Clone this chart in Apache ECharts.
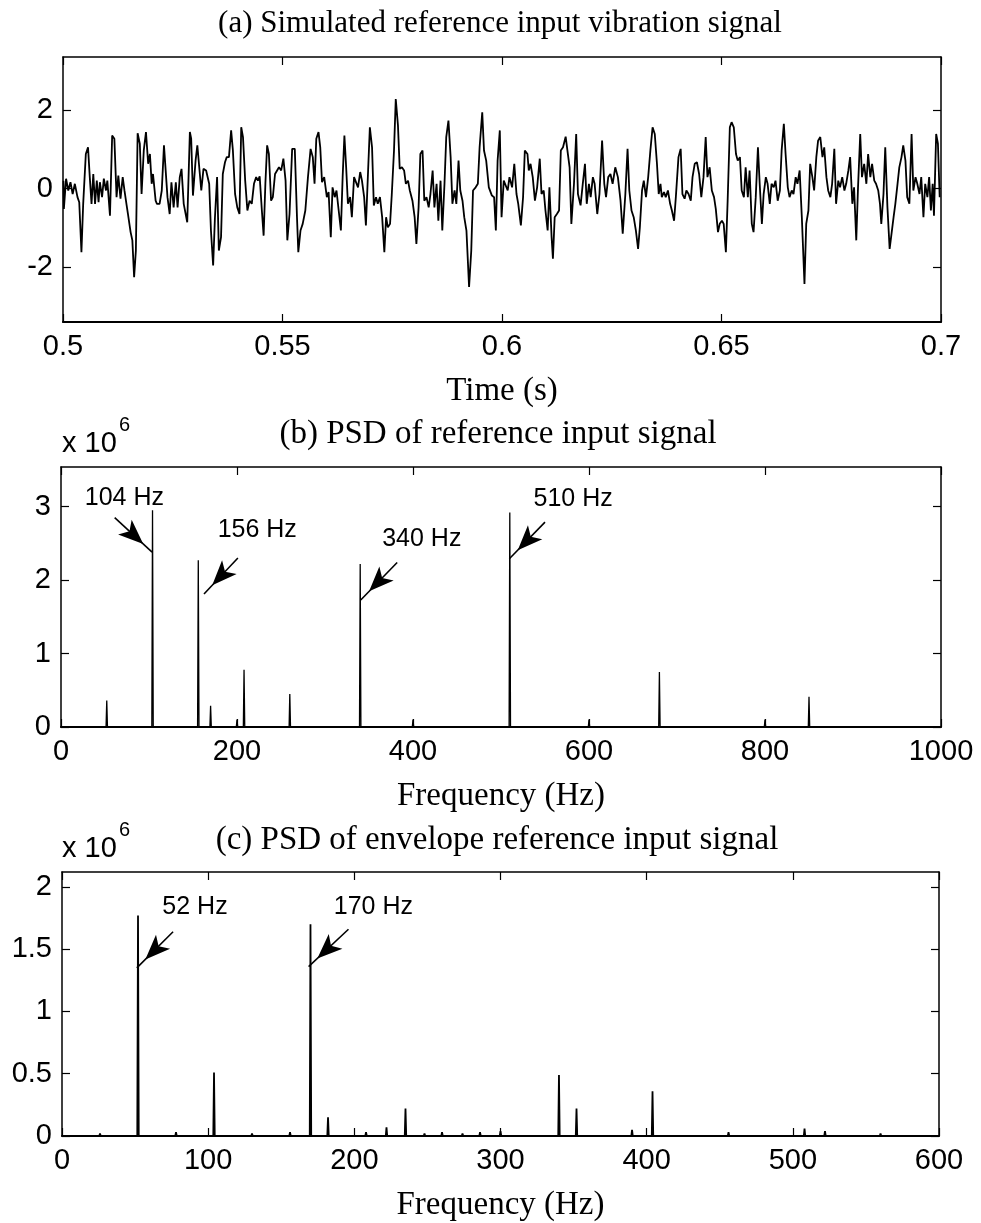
<!DOCTYPE html>
<html><head><meta charset="utf-8">
<script src="https://cdn.jsdelivr.net/npm/echarts@6/dist/echarts.min.js"></script>
<style>html,body{margin:0;padding:0;background:#fff}#c{width:981px;height:1223px}</style>
</head><body><div id="c"></div>
<script>
// ---------- data ----------
const timeTicks = [0.5, 0.55, 0.6, 0.65, 0.7];
const signalTicks = [-2, 0, 2];
const signalTime = [
0.5001,0.5002,0.5007,0.5012,0.5017,0.5022,0.5027,0.5033,0.5037,0.5042,
0.5046,0.5052,0.5057,0.5061,0.5065,0.5069,0.5073,0.5077,0.5081,0.5084,
0.5089,0.5093,0.5098,0.5101,0.5107,0.5112,0.5117,0.5122,0.5126,0.5131,
0.5136,0.5140,0.5145,0.5148,0.5154,0.5158,0.5162,0.5166,0.5170,0.5175,
0.5179,0.5184,0.5189,0.5194,0.5198,0.5202,0.5205,0.5211,0.5214,0.5220,
0.5225,0.5230,0.5233,0.5238,0.5243,0.5247,0.5252,0.5257,0.5261,0.5266,
0.5270,0.5275,0.5283,0.5289,0.5292,0.5296,0.5302,0.5306,0.5311,0.5315,
0.5320,0.5326,0.5333,0.5337,0.5342,0.5346,0.5351,0.5355,0.5360,0.5364,
0.5369,0.5373,0.5378,0.5383,0.5387,0.5392,0.5397,0.5402,0.5406,0.5410,
0.5415,0.5420,0.5425,0.5430,0.5435,0.5440,0.5444,0.5448,0.5453,0.5457,
0.5461,0.5465,0.5469,0.5474,0.5478,0.5483,0.5487,0.5492,0.5497,0.5502,
0.5507,0.5511,0.5516,0.5522,0.5528,0.5533,0.5536,0.5541,0.5546,0.5552,
0.5558,0.5564,0.5569,0.5573,0.5577,0.5582,0.5586,0.5590,0.5595,0.5601,
0.5605,0.5610,0.5614,0.5619,0.5623,0.5628,0.5633,0.5637,0.5641,0.5645,
0.5649,0.5654,0.5658,0.5663,0.5667,0.5672,0.5677,0.5681,0.5686,0.5690,
0.5695,0.5699,0.5704,0.5708,0.5713,0.5717,0.5722,0.5727,0.5732,0.5736,
0.5740,0.5745,0.5749,0.5754,0.5758,0.5763,0.5767,0.5772,0.5777,0.5781,
0.5786,0.5790,0.5796,0.5801,0.5805,0.5810,0.5814,0.5819,0.5823,0.5828,
0.5833,0.5837,0.5842,0.5846,0.5851,0.5855,0.5860,0.5864,0.5869,0.5873,
0.5878,0.5883,0.5887,0.5892,0.5896,0.5901,0.5905,0.5910,0.5914,0.5919,
0.5925,0.5930,0.5934,0.5940,0.5945,0.5949,
0.5955,0.5959,0.5964,0.5970,0.5977,0.5982,0.5986,0.5990,0.5995,0.5999,
0.6004,0.6008,0.6013,0.6017,0.6023,0.6028,0.6033,0.6037,0.6043,0.6048,
0.6052,0.6058,0.6061,0.6065,0.6070,0.6075,0.6080,0.6086,0.6090,0.6095,
0.6099,0.6104,0.6108,0.6113,0.6116,0.6120,0.6125,0.6130,0.6134,0.6139,
0.6145,0.6149,0.6154,0.6158,0.6164,0.6169,0.6173,0.6179,0.6184,0.6189,
0.6193,0.6198,0.6202,0.6207,0.6211,0.6217,0.6222,0.6228,0.6233,0.6237,
0.6242,0.6247,0.6252,0.6258,0.6264,0.6270,0.6275,0.6281,0.6286,0.6290,
0.6295,0.6300,0.6305,0.6310,0.6314,0.6319,0.6323,0.6328,0.6333,0.6338,
0.6343,0.6348,0.6353,0.6357,0.6361,0.6364,0.6369,0.6373,0.6378,0.6383,
0.6387,0.6392,0.6396,0.6402,0.6407,0.6411,0.6416,0.6420,0.6425,0.6430,
0.6434,0.6439,0.6444,0.6449,0.6454,0.6459,0.6464,0.6468,0.6473,0.6478,
0.6483,0.6487,0.6492,0.6496,0.6501,0.6505,0.6510,0.6514,0.6519,0.6523,
0.6528,0.6533,0.6537,0.6542,0.6546,0.6551,0.6555,0.6560,0.6564,0.6569,
0.6573,0.6578,0.6583,0.6587,0.6592,0.6596,0.6601,0.6605,0.6610,0.6614,
0.6619,0.6623,0.6628,0.6633,0.6637,0.6642,0.6646,0.6651,0.6655,0.6660,
0.6664,0.6669,0.6673,0.6678,0.6683,0.6689,0.6693,0.6698,0.6702,0.6707,
0.6711,0.6716,0.6720,0.6725,0.6730,0.6734,0.6739,0.6743,0.6748,0.6752,
0.6757,0.6761,0.6766,0.6770,0.6775,0.6780,0.6784,0.6789,0.6793,0.6798,
0.6802,0.6807,0.6811,0.6816,0.6820,0.6825,0.6830,0.6834,0.6839,0.6843,
0.6848,0.6852,0.6857,0.6861,0.6864,0.6869,0.6873,0.6878,0.6883,0.6887,
0.6892,0.6896,0.6901,0.6905,0.6910,0.6914,0.6919,0.6923,0.6928,0.6933,
0.6937,0.6942,0.6946,0.6951,0.6955,0.6960,0.6964,0.6969,0.6973,0.6977,
0.6981,0.6984,0.6989,0.6993,0.6997
];
const signalValue = [
0.20,-0.52,0.25,-0.05,0.16,-0.14,0.12,-0.22,-0.35,-1.62,
-0.39,0.88,1.05,0.29,-0.39,0.37,-0.39,0.20,-0.35,0.16,
-0.22,0.25,-0.05,0.20,-0.69,1.35,1.27,-0.22,0.33,-0.26,
0.29,-0.05,-0.43,-0.65,-1.11,-1.32,-2.26,-1.58,1.41,1.14,
-0.14,0.97,1.44,0.63,0.88,0.12,0.37,-0.31,-0.39,-0.39,
-0.05,1.10,1.10,-0.22,-0.65,0.16,-0.48,0.16,-0.48,0.29,
0.50,-0.39,-0.86,1.44,1.27,-0.18,0.71,1.10,0.46,-0.05,
0.50,0.46,0.12,-1.07,-1.96,-0.77,0.29,-1.58,-1.24,0.37,
0.67,0.80,0.80,1.48,0.97,-0.14,-0.48,-0.65,1.56,1.31,
0.20,-0.56,-0.31,-0.39,0.12,0.29,0.20,0.31,-0.56,-1.20,
0.12,1.10,0.88,-0.31,-0.22,0.37,0.37,0.54,0.46,0.76,
0.20,-1.32,-0.65,1.01,1.01,-0.73,-1.62,-1.07,-0.90,-0.56,
0.29,1.01,0.80,0.12,1.27,1.44,1.05,0.16,0.29,-0.22,
-0.09,-1.24,0.03,-0.22,-0.05,-0.56,-1.07,0.29,1.35,0.54,
-0.39,-0.22,-0.73,0.29,0.29,0.03,0.42,0.20,-0.22,-0.94,
0.46,1.56,1.05,-0.43,-0.22,-0.39,-0.22,-0.73,-1.62,-0.73,
-0.99,-0.90,-0.14,0.97,2.28,1.61,0.50,0.54,0.46,0.12,
0.20,-0.05,-0.31,-0.73,-1.41,-0.48,0.88,0.97,-0.31,-0.22,
-0.48,-0.14,0.46,-0.48,0.12,-0.82,0.20,-1.07,0.12,1.31,
1.73,0.80,-0.39,-0.05,-0.39,0.71,-0.05,-0.31,-0.73,-1.07,
-2.51,-1.58,-0.05,0.03,0.12,1.05,
1.94,0.97,0.71,0.03,-0.18,-0.22,-1.07,0.71,1.48,-0.73,
0.20,0.16,-0.05,0.29,0.03,0.63,-0.14,-0.39,-0.94,-0.22,
0.97,0.88,0.46,0.63,0.29,-0.31,0.03,0.76,-0.14,-0.05,
-0.56,-1.07,0.03,-1.24,-1.79,-0.73,-0.65,-0.56,0.97,1.05,
1.32,0.97,0.54,-0.90,0.12,1.39,-0.14,-0.43,0.12,0.63,
-0.39,0.12,-0.22,0.29,0.12,-0.65,-0.14,1.22,0.12,-0.22,
0.29,0.37,0.12,0.54,0.29,-0.31,-1.15,-0.14,1.01,-0.05,
-0.56,-0.73,-1.07,-1.54,-0.99,-0.05,0.20,-0.22,0.29,0.97,
1.56,1.39,0.63,-0.14,0.12,-0.22,-0.09,-0.22,-0.05,-0.39,
-0.56,-0.82,-0.22,0.80,1.01,-0.14,-0.26,-0.05,-0.14,-0.31,
0.29,0.63,0.67,0.37,-0.22,0.29,1.31,0.29,0.54,-0.05,
-0.22,-0.52,-1.11,-0.90,-0.82,-0.90,-1.62,-0.31,1.56,1.69,
1.56,0.88,0.71,0.80,-0.05,-0.22,0.54,-0.22,0.46,-0.90,
-1.11,-0.22,1.05,0.12,-0.90,-0.14,0.29,0.12,-0.39,0.12,
0.03,0.20,-0.31,-0.05,0.97,1.65,0.88,0.03,-0.22,-0.05,
-0.14,0.29,0.12,0.46,-0.73,-2.43,-0.90,-0.56,0.63,0.29,
-0.05,0.80,1.22,1.31,0.80,1.05,0.29,-0.05,-0.22,0.12,
1.01,-0.39,0.20,0.03,0.29,-0.05,0.12,0.46,0.80,-0.39,
0.03,-1.32,0.03,1.39,0.29,0.63,0.12,0.88,0.29,0.63,
0.20,0.12,-0.05,-0.39,-0.90,-0.14,1.05,-0.48,-1.54,-1.54,
-0.73,-0.39,0.12,0.54,0.80,1.10,0.71,-0.22,-0.39,1.39,
-0.05,0.29,0.12,-0.14,0.29,-0.73,0.12,-0.22,0.29,-0.56,
0.12,-0.69,1.39,1.14,-0.22
];

const psdFreqTicks = [0, 200, 400, 600, 800, 1000];
const psdTicks = [0, 1, 2, 3];
const psdPeakFreq = [52, 104, 156, 170, 200, 208, 260, 340, 400, 510, 600, 680, 800, 850];
const psdPeakAmp  = [0.36, 2.95, 2.27, 0.29, 0.10, 0.78, 0.45, 2.22, 0.10, 2.92, 0.10, 0.75, 0.10, 0.41];
const psdLabels = ['104 Hz', '156 Hz', '340 Hz', '510 Hz'];

const envFreqTicks = [0, 100, 200, 300, 400, 500, 600];
const envTicks = [0, 0.5, 1, 1.5, 2];
const envPeakFreq = [26, 52, 78, 104, 130, 156, 170, 182, 208, 222, 235, 248, 260, 274, 286, 300, 340, 352, 390, 404, 456, 508, 522, 560];
const envPeakAmp  = [0.02, 1.77, 0.03, 0.51, 0.02, 0.03, 1.70, 0.15, 0.03, 0.07, 0.22, 0.02, 0.03, 0.02, 0.03, 0.04, 0.49, 0.22, 0.05, 0.36, 0.03, 0.06, 0.04, 0.02];
const envLabels = ['52 Hz', '170 Hz'];

// annotation placement (data coordinates), kept apart from the values
const psdNotes = {
  at:   [[72, 3.12], [223, 2.68], [410, 2.56], [582, 3.10]],
  from: [[61, 2.85], [201, 2.30], [382, 2.24], [550, 2.79]],
  to:   [[103.5, 2.38], [162.5, 1.81], [340.6, 1.73], [509.5, 2.29]]
};
const envNotes = {
  at:   [[91, 1.84], [213, 1.84]],
  from: [[76, 1.64], [196, 1.66]],
  to:   [[51.2, 1.35], [168.7, 1.36]]
};

// ---------- build ----------
const black = '#000';
function spikes(freqs, amps, maxF, hw) {
  const pts = [[0, 0]];
  freqs.forEach((f, i) => { pts.push([f - hw, 0], [f, amps[i]], [f + hw, 0]); });
  pts.push([maxF, 0]);
  return pts;
}
function xAxes(gi, min, max, ticks, name, nameGap) {
  const base = {
    type: 'value', gridIndex: gi, min: min, max: max, splitLine: { show: false },
    axisTick: { show: true, inside: true, length: 8, customValues: ticks, lineStyle: { color: black, width: 1.2 } }
  };
  return [
    Object.assign({}, base, {
      position: 'bottom',
      axisLine: { show: true, onZero: false, lineStyle: { color: black, width: 2.2 } },
      axisLabel: { show: true, customValues: ticks, color: black, fontFamily: 'Liberation Sans', fontSize: 29, margin: 10,
                   formatter: v => String(v) },
      name: name, nameLocation: 'middle', nameGap: nameGap,
      nameTextStyle: { color: black, fontFamily: 'Liberation Serif', fontSize: 33 }
    }),
    Object.assign({}, base, {
      position: 'top',
      axisLine: { show: true, onZero: false, lineStyle: { color: black, width: 1.5 } },
      axisLabel: { show: false }
    })
  ];
}
function yAxes(gi, min, max, ticks) {
  const base = {
    type: 'value', gridIndex: gi, min: min, max: max, splitLine: { show: false },
    axisLine: { show: true, onZero: false, lineStyle: { color: black, width: 1.5 } },
    axisTick: { show: true, inside: true, length: 8, customValues: ticks, lineStyle: { color: black, width: 1.2 } }
  };
  return [
    Object.assign({}, base, {
      position: 'left',
      axisLabel: { show: true, customValues: ticks, color: black, fontFamily: 'Liberation Sans', fontSize: 29, margin: 10,
                   formatter: v => String(v) }
    }),
    Object.assign({}, base, { position: 'right', axisLabel: { show: false } })
  ];
}
function arrows(notes) {
  return {
    silent: true, animation: false,
    lineStyle: { color: black, width: 1.6, type: 'solid' },
    label: { show: false },
    emphasis: { disabled: true },
    data: notes.from.map((f, i) => [
      { coord: f, symbol: 'none' },
      { coord: notes.to[i], symbol: 'arrow', symbolSize: [15, 25], symbolOffset: [0, 12] }
    ])
  };
}
function labels(notes, texts) {
  return {
    silent: true, animation: false,
    symbol: 'circle', symbolSize: 0,
    itemStyle: { color: 'rgba(0,0,0,0)' },
    label: { show: true, position: 'inside', formatter: '{b}', color: black, fontFamily: 'Liberation Sans', fontSize: 25 },
    data: texts.map((t, i) => ({ name: t, coord: notes.at[i] }))
  };
}

const option = {
  animation: false,
  backgroundColor: '#fff',
  grid: [
    { left: 63, top: 57, width: 878, height: 265 },
    { left: 61, top: 467, width: 880, height: 260 },
    { left: 62, top: 872, width: 877, height: 265 }
  ],
  xAxis: [].concat(
    xAxes(0, 0.5, 0.7, timeTicks, 'Time (s)', 53),
    xAxes(1, 0, 1000, psdFreqTicks, 'Frequency (Hz)', 53),
    xAxes(2, 0, 600, envFreqTicks, 'Frequency (Hz)', 53)
  ),
  yAxis: [].concat(
    yAxes(0, -3.4, 3.35, signalTicks),
    yAxes(1, 0, 3.54, psdTicks),
    yAxes(2, 0, 2.12, envTicks)
  ),
  graphic: [
    { type: 'text', x: 500, y: 24, silent: true, style: { text: '(a) Simulated reference input vibration signal', fill: black, font: '31px "Liberation Serif"', align: 'center', verticalAlign: 'middle' } },
    { type: 'text', x: 498, y: 434, silent: true, style: { text: '(b) PSD of reference input signal', fill: black, font: '33px "Liberation Serif"', align: 'center', verticalAlign: 'middle' } },
    { type: 'text', x: 497, y: 840, silent: true, style: { text: '(c) PSD of envelope reference input signal', fill: black, font: '33px "Liberation Serif"', align: 'center', verticalAlign: 'middle' } },
    { type: 'text', x: 62, y: 444, silent: true, style: { text: 'x 10', fill: black, font: '29px "Liberation Sans"', align: 'left', verticalAlign: 'middle' } },
    { type: 'text', x: 119, y: 425, silent: true, style: { text: '6', fill: black, font: '20px "Liberation Sans"', align: 'left', verticalAlign: 'middle' } },
    { type: 'text', x: 62, y: 849, silent: true, style: { text: 'x 10', fill: black, font: '29px "Liberation Sans"', align: 'left', verticalAlign: 'middle' } },
    { type: 'text', x: 119, y: 830, silent: true, style: { text: '6', fill: black, font: '20px "Liberation Sans"', align: 'left', verticalAlign: 'middle' } }
  ],
  series: [
    {
      type: 'line', xAxisIndex: 0, yAxisIndex: 0, silent: true,
      data: signalTime.map((t, i) => [t, signalValue[i]]),
      symbol: 'none', lineStyle: { color: black, width: 1.8 }
    },
    {
      type: 'line', xAxisIndex: 2, yAxisIndex: 2, silent: true,
      data: spikes(psdPeakFreq, psdPeakAmp, 1000, 0.8),
      symbol: 'none', lineStyle: { color: black, width: 1.3 },
      markLine: arrows(psdNotes),
      markPoint: labels(psdNotes, psdLabels)
    },
    {
      type: 'line', xAxisIndex: 4, yAxisIndex: 4, silent: true,
      data: spikes(envPeakFreq, envPeakAmp, 600, 0.5),
      symbol: 'none', lineStyle: { color: black, width: 1.8 },
      markLine: arrows(envNotes),
      markPoint: labels(envNotes, envLabels)
    }
  ]
};
const chart = echarts.init(document.getElementById('c'));
chart.setOption(option);
</script>
</body></html>
